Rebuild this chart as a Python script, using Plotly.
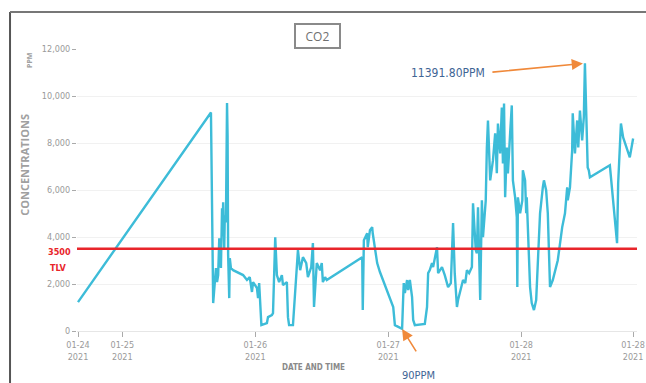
import datetime as dt
import plotly.graph_objects as go

# CO2 readings: hours elapsed since the first sample, and concentration in ppm
start_time = dt.datetime(2021, 1, 24, 16, 0)
elapsed_hours = [
    0.0, 24.0, 24.4, 24.9, 25.1, 25.3, 25.5, 25.8, 26.0, 26.1, 26.2, 26.4, 26.5, 26.7,
    26.9, 27.0, 27.1, 27.3, 27.4, 27.6, 28.0, 29.8, 30.5, 31.0, 31.4, 31.6, 32.3, 32.5,
    32.7, 33.0, 33.1, 34.1, 34.3, 35.0, 35.2, 35.6, 35.9, 36.3, 36.8, 37.0, 37.7, 37.9,
    38.1, 38.8, 39.0, 39.7, 40.1, 40.6, 41.2, 41.5, 42.1, 42.4, 42.6, 43.1, 43.7, 44.0,
    44.2, 44.6, 44.9, 51.3, 51.4, 51.6, 52.2, 52.3, 52.7, 53.1, 53.2, 54.0, 54.5, 55.8,
    56.9, 57.2, 58.5, 58.7, 58.8, 59.0, 59.4, 59.6, 59.9, 60.3, 60.5, 60.8, 62.6, 63.0,
    63.2, 63.5, 63.9, 64.1, 64.8, 65.0, 65.3, 65.7, 66.2, 66.8, 67.3, 67.7, 68.0, 68.4,
    68.6, 69.0, 69.5, 69.9, 70.2, 70.6, 71.1, 71.3, 71.5, 71.8, 72.0, 72.2, 72.6, 72.9,
    73.1, 73.6, 73.8, 74.0, 74.4, 74.9, 75.3, 75.6, 75.8, 76.2, 76.5, 76.7, 76.9, 77.1,
    77.4, 77.6, 78.0, 78.3, 78.5, 78.9, 79.2, 79.3, 79.4, 79.8, 80.2, 80.3, 80.7, 80.9,
    81.0, 81.2, 81.6, 81.9, 82.3, 82.7, 83.0, 83.4, 83.9, 84.1, 84.5, 84.8, 85.2, 85.7,
    86.6, 87.4, 87.9, 88.3, 88.4, 88.8, 89.2, 89.3, 89.7, 90.1, 90.3, 90.6, 91.0, 91.3,
    91.5, 91.9, 92.0, 92.2, 92.4, 96.0, 97.3, 97.5, 98.0, 98.4, 99.6, 100.2,
]
co2_ppm = [
    1230, 9300, 1190, 2680, 2080, 2380, 3950, 2680, 5220, 4080, 5480, 3520, 4930, 4630,
    9700, 8320, 3230, 1400, 3100, 2680, 2590, 2380, 2170, 2290, 1660, 2080, 1830, 1400,
    2040, 680, 250, 340, 590, 680, 760, 3990, 2380, 2080, 2380, 1950, 2080, 590,
    250, 250, 1020, 3440, 2590, 3140, 2890, 2290, 2720, 3740, 1020, 2890, 2590, 2890,
    2080, 2290, 2170, 3140, 890, 3860, 4160, 3570, 4290, 4420, 4160, 2890, 2510, 1740,
    1020, 250, 90, 1440, 2040, 1610, 2170, 1740, 2170, 1440, 470, 250, 300, 1020,
    2460, 2590, 2890, 2720, 3570, 2460, 2590, 2720, 2380, 1870, 2040, 4590, 2460, 1020,
    1320, 1740, 2170, 2040, 2590, 2460, 2720, 5430, 4500, 3440, 3310, 5270, 1320, 5560,
    3990, 5560, 7810, 8960, 6410, 7260, 8410, 6710, 8830, 7560, 9510, 7130, 9680, 5690,
    7810, 6710, 8410, 9600, 6410, 5690, 4840, 1870, 5690, 5010, 5560, 6840, 6410, 5010,
    5690, 4420, 1870, 1190, 890, 1320, 3010, 5010, 6110, 6410, 5990, 5010, 1870, 2170,
    3010, 4420, 5010, 6110, 5560, 6110, 7690, 9260, 7560, 8960, 7810, 9380, 8110, 9090,
    11391.8, 7810, 6960, 6840, 6540, 7050, 3740, 6280, 8830, 8240, 7390, 8190,
]

tlv_ppm = 3500
y_ticks = [0, 2000, 4000, 6000, 8000, 10000, 12000]
x_tick_labels = ["01-24<br>2021", "01-25<br>2021", "01-26<br>2021",
                 "01-27<br>2021", "01-28<br>2021", "01-28<br>2021"]

times = [start_time + dt.timedelta(hours=h) for h in elapsed_hours]
x_tick_times = [times[0], dt.datetime(2021, 1, 25), dt.datetime(2021, 1, 26),
                dt.datetime(2021, 1, 27), dt.datetime(2021, 1, 28), times[-1]]

peak_i = max(range(len(co2_ppm)), key=lambda i: co2_ppm[i])
low_i = min(range(len(co2_ppm)), key=lambda i: co2_ppm[i])

narrow = "Liberation Sans Narrow, DejaVu Sans Condensed, Arial Narrow, sans-serif"
grey = "#9a9a9a"

fig = go.Figure()
fig.add_trace(go.Scatter(
    x=times, y=co2_ppm, mode="lines",
    line=dict(color="#3dbcd8", width=2.4),
    hoverinfo="x+y", showlegend=False,
))

fig.add_shape(type="line", xref="paper", x0=0, x1=1, yref="y", y0=tlv_ppm, y1=tlv_ppm,
              line=dict(color="#e8252b", width=2.6), layer="above")

# frame lines on the left and top of the figure
fig.add_shape(type="line", xref="paper", yref="paper", x0=-0.1196, x1=-0.1196, y0=1.131, y1=-0.2,
              line=dict(color="#555555", width=2))
fig.add_shape(type="line", xref="paper", yref="paper", x0=-0.1196, x1=1.03, y0=1.131, y1=1.131,
              line=dict(color="#777777", width=2))


def label(text, x, y, size, color, family=narrow, **kw):
    return dict(text=text, xref="paper", yref="paper", x=x, y=y, showarrow=False,
                xanchor=kw.pop("xanchor", "center"), yanchor="middle",
                font=dict(family=family, size=size, color=color), **kw)


annotations = [
    label("CO2", 0.430, 1.046, 12, "#707070", family="Open Sans, sans-serif",
          bordercolor="#8a8a8a", borderwidth=2, borderpad=2, bgcolor="white",
          width=39, height=18),
    label("<b>CONCENTRATIONS</b>", -0.093, 0.589, 11, "#a0a0a0",
          family="Open Sans, sans-serif", textangle=-90),
    label("<b>PPM</b>", -0.084, 0.961, 7, "#a0a0a0",
          family="Open Sans, sans-serif", textangle=-90),
    label("<b>%d</b>" % tlv_ppm, -0.008, 0.28, 9, "#e8252b", xanchor="right"),
    label("<b>TLV</b>", -0.016, 0.223, 9, "#e8252b", xanchor="right"),
    label("<b>DATE AND TIME</b>", 0.423, -0.128, 8, "#8a8a8a"),
    # peak marker
    label("%.2fPPM" % co2_ppm[peak_i], 0.663, 0.915, 12, "#3f6595"),
    dict(text="", x=times[peak_i], y=co2_ppm[peak_i], xref="x", yref="y",
         ax=-94, ay=9, showarrow=True, arrowhead=2, arrowsize=1.4, arrowwidth=1.6,
         arrowcolor="#f0893a", standoff=2),
    # minimum marker
    label("%dPPM" % co2_ppm[low_i], 0.61, -0.158, 11, "#3f6595"),
    dict(text="", x=times[low_i], y=co2_ppm[low_i], xref="x", yref="y",
         ax=15, ay=24, showarrow=True, arrowhead=2, arrowsize=1.4, arrowwidth=1.6,
         arrowcolor="#f0893a", standoff=0),
]

fig.update_layout(
    width=646, height=383,
    margin=dict(l=77, r=9, t=49, b=52),
    paper_bgcolor="white", plot_bgcolor="white",
    annotations=annotations,
    xaxis=dict(
        range=[start_time - dt.timedelta(hours=0.18), start_time + dt.timedelta(hours=100.9)],
        tickmode="array", tickvals=x_tick_times, ticktext=x_tick_labels,
        ticks="outside", ticklen=5, tickcolor="#aaaaaa", ticklabeloverflow="allow",
        automargin=False,
        showgrid=False, showline=True, linecolor="#e6e6e6", linewidth=1,
        tickfont=dict(family=narrow, size=9, color=grey),
        zeroline=False,
    ),
    yaxis=dict(
        range=[0, 12000], tickmode="array", tickvals=y_ticks,
        ticktext=["{:,}".format(v) for v in y_ticks],
        ticks="outside", ticklen=4, tickcolor="#aaaaaa", automargin=False,
        showgrid=True, gridcolor="#f1f1f1", zeroline=False,
        tickfont=dict(family=narrow, size=9, color=grey),
    ),
)

fig.write_html("out.html")
